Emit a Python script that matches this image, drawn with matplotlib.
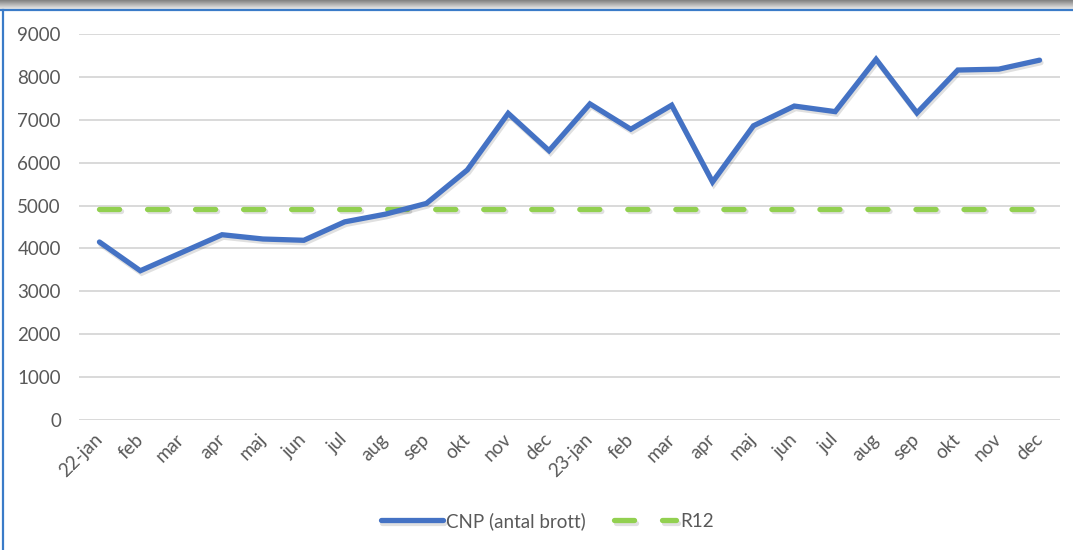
import matplotlib.pyplot as plt
import matplotlib.patheffects as pe
import numpy as np

# data

months = ['22-jan', 'feb', 'mar', 'apr', 'maj', 'jun', 'jul', 'aug', 'sep', 'okt', 'nov', 'dec',
          '23-jan', 'feb', 'mar', 'apr', 'maj', 'jun', 'jul', 'aug', 'sep', 'okt', 'nov', 'dec']
cnp = [4150, 3480, 3900, 4320, 4220, 4190, 4620, 4800, 5050, 5830, 7150, 6280,
       7370, 6780, 7340, 5550, 6860, 7320, 7190, 8410, 7160, 8160, 8180, 8390]
r12 = [4920, 4920, 4920, 4920, 4920, 4920, 4920, 4920, 4920, 4920, 4920, 4920,
       4920, 4920, 4920, 4920, 4920, 4920, 4920, 4920, 4920, 4920, 4920, 4920]
yticks = [0, 1000, 2000, 3000, 4000, 5000, 6000, 7000, 8000, 9000]

plt.rcParams['font.family'] = ['Lato', 'DejaVu Sans']
txt = '#595959'
fs = 13.5

fig = plt.figure(figsize=(10.73, 5.5), dpi=100)
W, H = 1073, 550

# frame: grey shadow band on top, blue border on top and left
top = fig.add_axes([0, 1 - 9 / H, 1, 9 / H])
grad = np.linspace(0.5, 0.92, 50).reshape(-1, 1)
top.imshow(grad, aspect='auto', cmap='gray', vmin=0, vmax=1, extent=[0, 1, 0, 1])
top.axis('off')
fig.add_artist(plt.Line2D([0, 1], [1 - 10 / H, 1 - 10 / H], color='#3A7BC8', lw=1.6))
fig.add_artist(plt.Line2D([2.5 / W, 2.5 / W], [0, 1 - 10 / H], color='#3A7BC8', lw=1.6))

ax = fig.add_axes([79 / W, 1 - 420 / H, (1060 - 79) / W, (420 - 34) / H])
x = np.arange(len(months))

shadow = [pe.SimpleLineShadow(offset=(1, -1.8), shadow_color='black', alpha=0.12),
          pe.Normal()]
ax.plot(x, cnp, color='#4472C4', lw=3.8, solid_joinstyle='miter', solid_capstyle='round',
        label='CNP (antal brott)', path_effects=shadow, zorder=3)
ax.plot(x, r12, color='#92D050', lw=3.8, dashes=(3.8, 5.3), dash_capstyle='round',
        label='R12', path_effects=shadow, zorder=2)

ax.set_xlim(-0.5, len(months) - 0.5)
ax.set_ylim(0, 9000)
ax.set_yticks(yticks)
ax.set_yticklabels([str(v) for v in yticks])
ax.set_xticks(x)
ax.set_xticklabels(months, rotation=45, ha='right', va='center', rotation_mode='anchor')
ax.tick_params(axis='both', length=0, labelcolor=txt, labelsize=fs)
ax.tick_params(axis='y', pad=13)
ax.tick_params(axis='x', pad=12)
for s in ax.spines.values():
    s.set_visible(False)
ax.grid(axis='y', color='#D9D9D9', lw=1.4)
ax.set_axisbelow(True)

leg = fig.legend(loc='center', bbox_to_anchor=(0.51, 1 - 521 / H), ncol=2, frameon=False,
                 handlelength=3.3, handletextpad=0.2, columnspacing=1.5,
                 fontsize=fs, labelcolor=txt)

fig.savefig('out.png', dpi=100)
